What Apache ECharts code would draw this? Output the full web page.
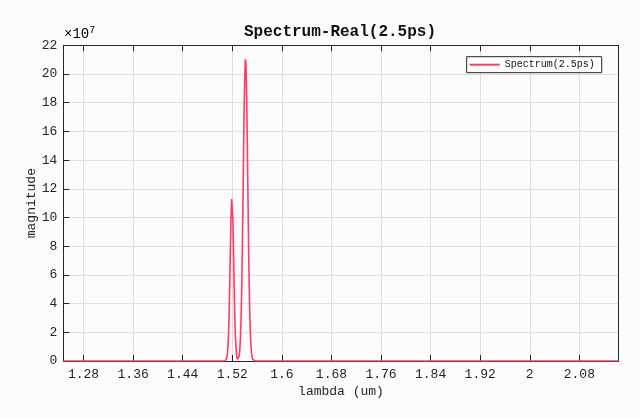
<!DOCTYPE html>
<html>
<head>
<meta charset="utf-8">
<script src="https://cdn.jsdelivr.net/npm/echarts@6/dist/echarts.min.js"></script>
<style>
html,body{margin:0;padding:0;background:#fcfcfc;}
#chart{width:640px;height:418px;}
</style>
</head>
<body>
<div id="chart"></div>
<script>
// Data (magnitude in units of 1e7)
const lambdaValues = [1.2473, 1.508, 1.509, 1.510, 1.511, 1.512, 1.513, 1.514, 1.515, 1.516, 1.517, 1.518, 1.519, 1.5194, 1.520, 1.521, 1.522, 1.523, 1.524, 1.525, 1.526, 1.527, 1.528, 1.529, 1.530, 1.531, 1.532, 1.533, 1.534, 1.535, 1.536, 1.537, 1.538, 1.539, 1.540, 1.541, 1.5413, 1.542, 1.543, 1.544, 1.545, 1.546, 1.547, 1.548, 1.549, 1.550, 1.551, 1.552, 1.553, 1.554, 1.555, 1.556, 1.557, 2.1435];
const magnitudeValues = [0, 0.005, 0.018, 0.060, 0.172, 0.439, 0.998, 2.01, 3.61, 5.73, 8.09, 10.15, 11.29, 11.4, 11.16, 9.79, 7.63, 5.28, 3.24, 1.77, 0.86, 0.37, 0.12, 0.06, 0.12, 0.33, 0.75, 1.48, 2.70, 4.56, 7.14, 10.34, 13.86, 17.20, 19.77, 21.03, 21.1, 20.71, 18.87, 15.93, 12.44, 9.00, 6.02, 3.73, 2.14, 1.14, 0.56, 0.26, 0.11, 0.04, 0.015, 0.005, 0, 0];
const xTickValues = [1.28, 1.36, 1.44, 1.52, 1.60, 1.68, 1.76, 1.84, 1.92, 2.00, 2.08];
const xTickLabels = ['1.28', '1.36', '1.44', '1.52', '1.6', '1.68', '1.76', '1.84', '1.92', '2', '2.08'];
const seriesName = 'Spectrum(2.5ps)';
const titleText = 'Spectrum-Real(2.5ps)';

const points = lambdaValues.map((x, i) => [x, magnitudeValues[i]]);
const FONT = '"Liberation Mono", "DejaVu Sans Mono", monospace';
const AX = '#262626';
const xMin = 1.2473, xMax = 2.1435;

const chart = echarts.init(document.getElementById('chart'), null, {renderer: 'canvas'});
chart.setOption({
  backgroundColor: '#fcfcfc',
  animation: false,
  grid: {left: 63.3, right: 21.3, top: 45.3, bottom: 57, containLabel: false},
  graphic: [
    {type: 'text', x: 340, y: 32, style: {text: titleText, align: 'center', verticalAlign: 'middle', font: 'bold 16px ' + FONT, fill: '#111'}},
    {type: 'text', x: 64, y: 34, style: {
      text: '{a|×10}{b|7}', verticalAlign: 'middle', align: 'left',
      rich: {
        a: {fontFamily: FONT, fontSize: 14, color: AX},
        b: {fontFamily: FONT, fontSize: 10, color: AX, verticalAlign: 'top', padding: [0, 0, 8, 0]}
      }
    }}
  ],
  legend: {
    data: [seriesName],
    right: 38.3, top: 56.7,
    orient: 'vertical',
    icon: 'rect', itemWidth: 30, itemHeight: 2,
    padding: [3, 7, 3, 3],
    borderColor: AX, borderWidth: 1, backgroundColor: '#ffffff',
    textStyle: {fontFamily: FONT, fontSize: 10, color: '#111'}
  },
  xAxis: [{
    type: 'value', min: xMin, max: xMax,
    name: 'lambda (um)', nameLocation: 'middle', nameGap: 24, nameMoveOverlap: false,
    nameTextStyle: {fontFamily: FONT, fontSize: 13, color: AX},
    axisLine: {show: true, lineStyle: {color: AX, width: 1}},
    axisTick: {show: true, inside: true, length: 6, customValues: xTickValues, lineStyle: {color: AX}},
    axisLabel: {show: true, customValues: xTickValues, margin: 7, fontFamily: FONT, fontSize: 13, color: AX,
      formatter: v => { const i = xTickValues.findIndex(t => Math.abs(t - v) < 1e-6); return i >= 0 ? xTickLabels[i] : ''; }},
    splitLine: {show: true, lineStyle: {color: '#dedede', width: 1}}
  }, {
    type: 'value', min: xMin, max: xMax, position: 'top',
    axisLine: {show: true, onZero: false, lineStyle: {color: AX, width: 1}},
    axisTick: {show: true, inside: true, length: 6, customValues: xTickValues, lineStyle: {color: AX}},
    axisLabel: {show: false},
    splitLine: {show: false}
  }],
  yAxis: [{
    type: 'value', min: 0, max: 22, interval: 2,
    name: 'magnitude', nameLocation: 'middle', nameGap: 25, nameRotate: 90, nameMoveOverlap: false,
    nameTextStyle: {fontFamily: FONT, fontSize: 13, color: AX},
    axisLine: {show: true, lineStyle: {color: AX, width: 1}},
    axisTick: {show: true, inside: true, length: 6, lineStyle: {color: AX}},
    axisLabel: {margin: 6, fontFamily: FONT, fontSize: 13, color: AX},
    splitLine: {show: true, lineStyle: {color: '#dedede', width: 1}}
  }, {
    type: 'value', min: 0, max: 22, interval: 2, position: 'right',
    axisLine: {show: true, onZero: false, lineStyle: {color: AX, width: 1}},
    axisTick: {show: false},
    axisLabel: {show: false},
    splitLine: {show: false}
  }],
  series: [{
    name: seriesName,
    type: 'line',
    xAxisIndex: 0, yAxisIndex: 0,
    data: points,
    showSymbol: false, symbol: 'none',
    lineStyle: {color: '#ff3d62', width: 1.6},
    itemStyle: {color: '#ff3d62'},
    z: 3
  }]
});
</script>
</body>
</html>
